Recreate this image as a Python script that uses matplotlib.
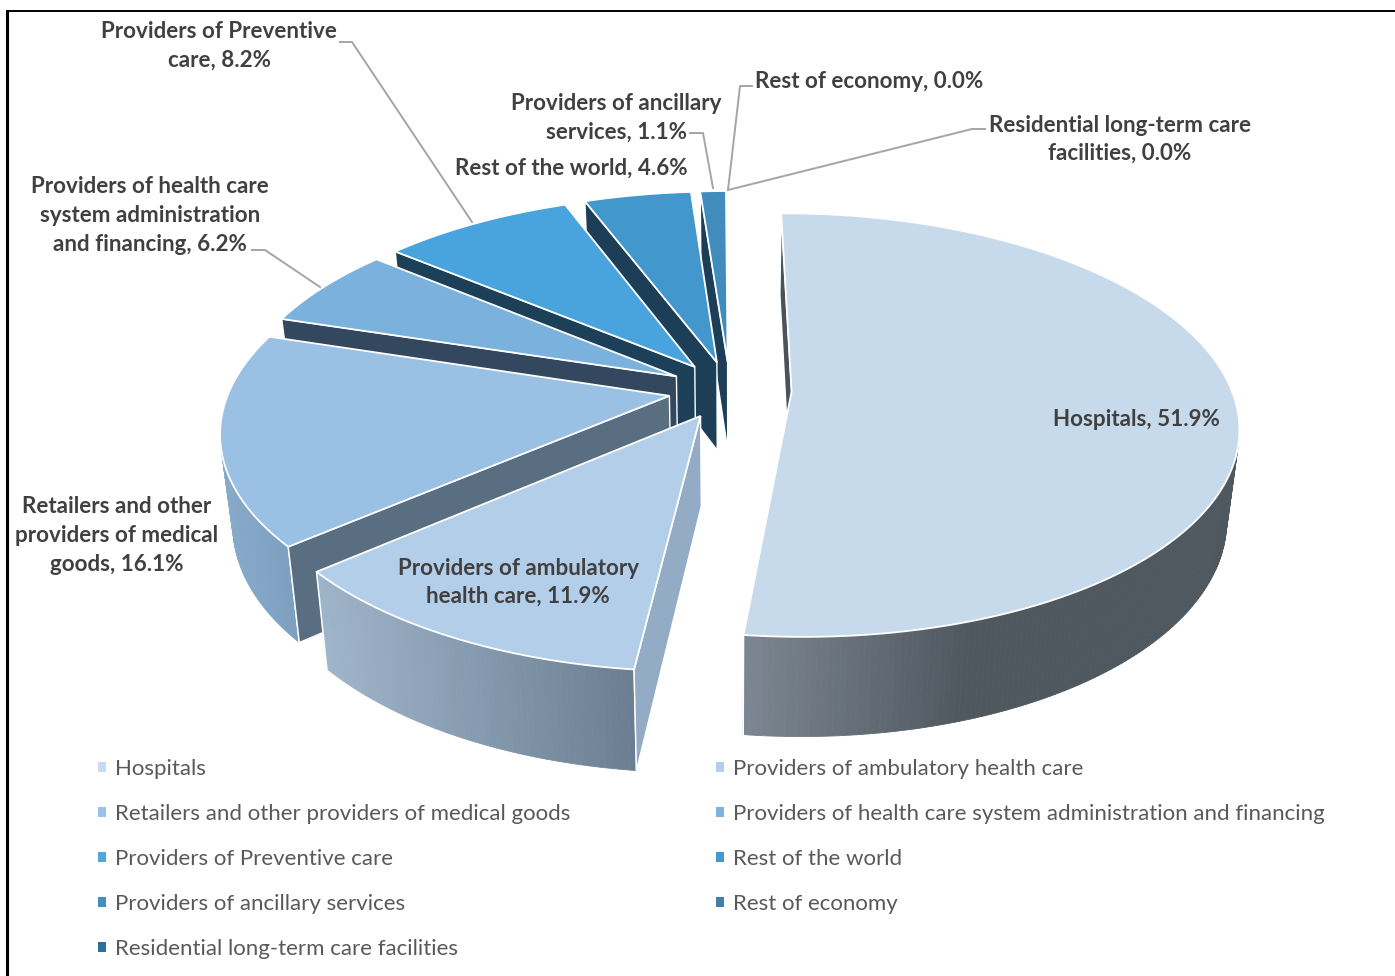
import numpy as np
import matplotlib
matplotlib.use("Agg")
import matplotlib.pyplot as plt
from matplotlib.colors import to_rgb
from matplotlib.patches import Patch, Polygon

# Share of current health expenditure by provider, in percent
categories = [
    "Hospitals",
    "Providers of ambulatory health care",
    "Retailers and other providers of medical goods",
    "Providers of health care system administration and financing",
    "Providers of Preventive care",
    "Rest of the world",
    "Providers of ancillary services",
    "Rest of economy",
    "Residential long-term care facilities",
]
shares = [51.9, 11.9, 16.1, 6.2, 8.2, 4.6, 1.1, 0.0, 0.0]

top_colors = ["#c7daec", "#b3cee9", "#9ac1e3", "#7bb1dd", "#49a4dd",
              "#4297cc", "#3f8cbd", "#3d80ab", "#2e6f9c"]
legend_colors = ["#c6dbef", "#b3cfeb", "#9bc2e6", "#7db3e0", "#4fa7de",
                 "#4497cf", "#4390bf", "#3d80ab", "#2e6f9c"]
cut_colors = ["#4a535c", "#93abc4", "#5a6e81", "#33475e", "#1c4058",
              "#1c3f57", "#1c3f57", "#1c3f57", "#1c3f57"]
# Outer wall shading: left colour, right colour, fraction of the width used
wall_shades = [("#7c8692", "#4f585f", 0.45), ("#9fb5ca", "#6c7f92", 1.0),
               ("#88aaca", "#7da0c0", 1.0), ("#33475e", "#33475e", 1.0),
               ("#1c4058", "#1c4058", 1.0), ("#1c3f57", "#1c3f57", 1.0),
               ("#1c3f57", "#1c3f57", 1.0), ("#1c3f57", "#1c3f57", 1.0),
               ("#1c3f57", "#1c3f57", 1.0)]

# Projection of the pie plane onto the page
CX, CY = 730.0, 390.0
RX, RY = 440.0, 206.0
PERSPECTIVE = 0.158
FLOOR_SCALE = 0.975
DEPTH = 89.0
EXPLODE = 0.14
START_DEG = -0.3


def project(u, v, floor=False):
    """Map pie-plane coordinates to page pixels, on the top or bottom face."""
    w = 1.0 - PERSPECTIVE * v
    s = FLOOR_SCALE if floor else 1.0
    x = CX + RX * u / w * s
    y = CY + RY * v / w * s + (DEPTH / w if floor else 0.0)
    return x, y


def signed_area(points):
    p = np.asarray(points)
    x, y = p[:, 0], p[:, 1]
    return 0.5 * np.sum(x * np.roll(y, -1) - np.roll(x, -1) * y)


fig = plt.figure(figsize=(13.95, 9.76), dpi=100, facecolor="white")
ax = fig.add_axes([0, 0, 1, 1])
ax.set_xlim(0, 1395)
ax.set_ylim(976, 0)
ax.axis("off")

# Frame left and above the chart
ax.plot([7, 7], [11, 976], color="black", lw=2.2, solid_capstyle="butt")
ax.plot([6, 1395], [11, 11], color="black", lw=1.4, solid_capstyle="butt")

edges = START_DEG + np.concatenate([[0.0], np.cumsum(shares)]) * 3.6
slices = []
for i in range(len(shares)):
    a0, a1 = edges[i], edges[i + 1]
    mid = np.radians((a0 + a1) / 2)
    ou, ov = EXPLODE * np.sin(mid), -EXPLODE * np.cos(mid)
    slices.append((ov, i, a0, a1, ou, ov))

# Paint from the back of the pie to the front
for _, i, a0, a1, ou, ov in sorted(slices, key=lambda s: s[0]):
    n = max(2, int((a1 - a0) * 1.5))
    th = np.radians(np.linspace(a0, a1, n))
    u = ou + np.sin(th)
    v = ov - np.cos(th)
    tx, ty = project(u, v)
    bx, by = project(u, v, floor=True)

    # Outer wall as thin shaded strips, keeping only the faces turned to the viewer
    strips = []
    for k in range(n - 1):
        q = [(tx[k], ty[k]), (tx[k + 1], ty[k + 1]),
             (bx[k + 1], by[k + 1]), (bx[k], by[k])]
        if signed_area(q) < 0:
            strips.append((k, q))
    if strips:
        xs = np.array([np.mean(np.array(q)[:, 0]) for _k, q in strips])
        c0, c1, span = wall_shades[i]
        c0, c1 = np.array(to_rgb(c0)), np.array(to_rgb(c1))
        spread = max(xs.max() - xs.min(), 1.0) * span
        for (k, q), xm in zip(strips, xs):
            f = min((xm - xs.min()) / spread, 1.0)
            col = c0 + (c1 - c0) * f
            ax.add_patch(Polygon(q, closed=True, fc=col, ec=col, lw=0.6, zorder=2 + ov))
            # Only the true ends of the slice carry a white seam, not the silhouette
            if k == 0:
                ax.plot([q[0][0], q[3][0]], [q[0][1], q[3][1]], color="white",
                        lw=1.1, zorder=2.01 + ov)
            if k == n - 2:
                ax.plot([q[1][0], q[2][0]], [q[1][1], q[2][1]], color="white",
                        lw=1.1, zorder=2.01 + ov)

    # Radial cut faces at both ends of the slice
    ax0, ay0 = project(ou, ov)
    bx0, by0 = project(ou, ov, floor=True)
    for end, order in ((0, 1), (-1, -1)):
        q = [(ax0, ay0), (tx[end], ty[end]), (bx[end], by[end]), (bx0, by0)]
        if order < 0:
            q = [q[1], q[0], q[3], q[2]]
        if signed_area(q) < 0:
            ax.add_patch(Polygon(q, closed=True, fc=cut_colors[i], ec="white",
                                 lw=1.0, zorder=2.02 + ov))

    # Top face
    if a1 > a0:
        outline = [(ax0, ay0)] + list(zip(tx, ty))
        ax.add_patch(Polygon(outline, closed=True, fc=top_colors[i], ec="white",
                             lw=1.3, joinstyle="miter", zorder=2.03 + ov))

# Leader lines
leaders = [
    ([340, 352, 472], [42, 42, 222]),
    ([690, 703, 713], [133, 133, 188]),
    ([752, 740, 728], [86, 86, 190]),
    ([985, 972, 728], [129, 129, 190]),
    ([252, 265, 320], [250, 250, 287]),
]
for lx, ly in leaders:
    ax.plot(lx, ly, color="#a5a5a5", lw=1.4, zorder=5)

# Data labels
label_font = dict(family="Lato", weight="bold", fontsize=16.15, color="#404040",
                  ha="center", va="center", multialignment="center", zorder=6)
labels = [
    (1136, 420, "Hospitals, 51.9%", 1.2),
    (518, 582.5, "Providers of ambulatory\nhealth care, 11.9%", 1.4),
    (117, 535.5, "Retailers and other\nproviders of medical\ngoods, 16.1%", 1.45),
    (150, 215.5, "Providers of health care\nsystem administration\nand financing, 6.2%", 1.45),
    (219, 46, "Providers of Preventive\ncare, 8.2%", 1.45),
    (571, 168, "Rest of the world, 4.6%", 1.2),
    (616, 117.5, "Providers of ancillary\nservices, 1.1%", 1.47),
    (869, 82, "Rest of economy, 0.0%", 1.2),
    (1120, 139.5, "Residential long-term care\nfacilities, 0.0%", 1.4),
]
for x, y, text, spacing in labels:
    ax.text(x, y, text, linespacing=spacing, **label_font)

# Legend is filled column by column, so order the entries to read across rows
order = [0, 2, 4, 6, 8, 1, 3, 5, 7]
handles = [Patch(fc=legend_colors[i], ec="none", label=categories[i]) for i in order]
ax.legend(handles=handles, ncol=2, frameon=False, loc="upper left",
          bbox_to_anchor=(98 / 1395, 1 - 759 / 976),
          prop={"family": "Lato", "size": 16.0}, labelcolor="#595959",
          handlelength=0.36, handleheight=0.36, handletextpad=0.42,
          labelspacing=1.125, columnspacing=6.54, borderpad=0, borderaxespad=0)

fig.savefig("out.png", dpi=100, facecolor="white")
